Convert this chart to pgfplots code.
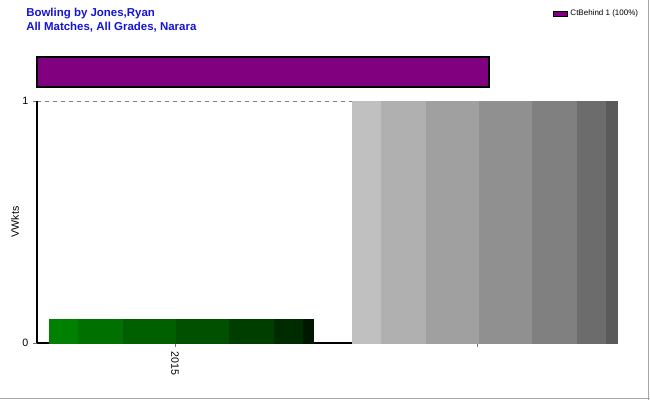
\documentclass[border=0pt]{standalone}
\usepackage{pgfplots}
\pgfplotsset{compat=1.18}
\usepackage{fontspec}
\setmainfont{Liberation Sans}

\definecolor{titleblue}{RGB}{20,20,215}
\definecolor{barpurple}{RGB}{128,0,128}
\definecolor{gA}{RGB}{0,128,0}
\definecolor{gB}{RGB}{0,112,0}
\definecolor{gC}{RGB}{0,96,0}
\definecolor{gD}{RGB}{0,80,0}
\definecolor{gE}{RGB}{0,62,0}
\definecolor{gF}{RGB}{0,42,0}
\definecolor{gG}{RGB}{0,24,0}
\definecolor{kA}{RGB}{192,192,192}
\definecolor{kB}{RGB}{176,176,176}
\definecolor{kC}{RGB}{160,160,160}
\definecolor{kD}{RGB}{144,144,144}
\definecolor{kE}{RGB}{128,128,128}
\definecolor{kF}{RGB}{108,108,108}
\definecolor{kG}{RGB}{90,90,90}

% one vertical band of a banded bar: colour, shift, width, x, value
\newcommand\band[5]{\addplot[ybar, bar width=#3, bar shift=#2, fill=#1, draw=#1, line width=0.3pt]
  coordinates {(#4,#5)};}

\begin{document}
\begin{tikzpicture}
\useasboundingbox (0,0) rectangle (487.5pt,300pt);
% frame edges
\draw[black!35, line width=1.2pt] (486.4pt,0) -- (486.4pt,300pt);
\draw[black!35, line width=1.2pt] (0,1.1pt) -- (487.5pt,1.1pt);

% title
\node[anchor=base west, text=titleblue, font=\fontsize{8.6}{10}\selectfont\bfseries, inner sep=0]
  at (19.5pt,287.25pt) {Bowling by Jones,Ryan};
\node[anchor=base west, text=titleblue, font=\fontsize{8.6}{10}\selectfont\bfseries, inner sep=0]
  at (19.5pt,276.75pt) {All Matches, All Grades, Narara};

% main chart
\begin{axis}[
  at={(27.75pt,42.75pt)}, anchor=south west,
  scale only axis, width=435pt, height=181.5pt,
  xmin=-0.457, xmax=1.4636, ymin=0, ymax=1,
  axis x line=bottom, axis y line=left,
  axis line style={-, black, line width=1.5pt},
  xtick={0,1}, xticklabels={2015,{}},
  ytick={0,1},
  tick align=outside, major tick length=3pt,
  tick style={black!55, line width=0.6pt},
  x tick label style={rotate=-90, anchor=west},
  ticklabel style={font=\fontsize{8}{9}\selectfont},
  /pgf/number format/assume math mode=true,
  ymajorgrids, grid style={black!50, dashed, line width=0.6pt},
  ylabel={VWkts},
  ylabel style={font=\fontsize{8}{9}\selectfont, at={(axis description cs:-0.038,0.5)}, anchor=center},
  clip=false,
]
\band{gA}{-0.369}{0.096}{0}{0.1}
\band{gB}{-0.2465}{0.149}{0}{0.1}
\band{gC}{-0.0845}{0.175}{0}{0.1}
\band{gD}{0.091}{0.176}{0}{0.1}
\band{gE}{0.2535}{0.149}{0}{0.1}
\band{gF}{0.376}{0.096}{0}{0.1}
\band{gG}{0.4405}{0.033}{0}{0.1}
\band{kA}{-0.366}{0.096}{1}{1}
\band{kB}{-0.2435}{0.149}{1}{1}
\band{kC}{-0.0815}{0.175}{1}{1}
\band{kD}{0.094}{0.176}{1}{1}
\band{kE}{0.2565}{0.149}{1}{1}
\band{kF}{0.379}{0.096}{1}{1}
\band{kG}{0.4455}{0.037}{1}{1}
\end{axis}

% proportion bar and legend
\begin{axis}[
  at={(27.75pt,234.75pt)}, anchor=south west,
  scale only axis, width=435pt, height=22.5pt,
  xmin=0, xmax=1.2832, ymin=-0.5, ymax=0.5,
  hide axis, clip=false,
  legend style={at={(axis description cs:0.8897,2.667)}, anchor=north west,
    draw=none, fill=none, inner sep=0pt, font=\fontsize{6}{7}\selectfont},
  legend image code/.code={\fill[draw=black, fill=barpurple, line width=0.4pt] (0pt,-1.9pt) rectangle (10.5pt,1.9pt);},
]
\addplot[xbar, bar width=1, fill=barpurple, draw=black, line width=1.1pt] coordinates {(1,0)};
\addlegendentry{CtBehind 1 (100\%)}
\end{axis}
\end{tikzpicture}
\end{document}
